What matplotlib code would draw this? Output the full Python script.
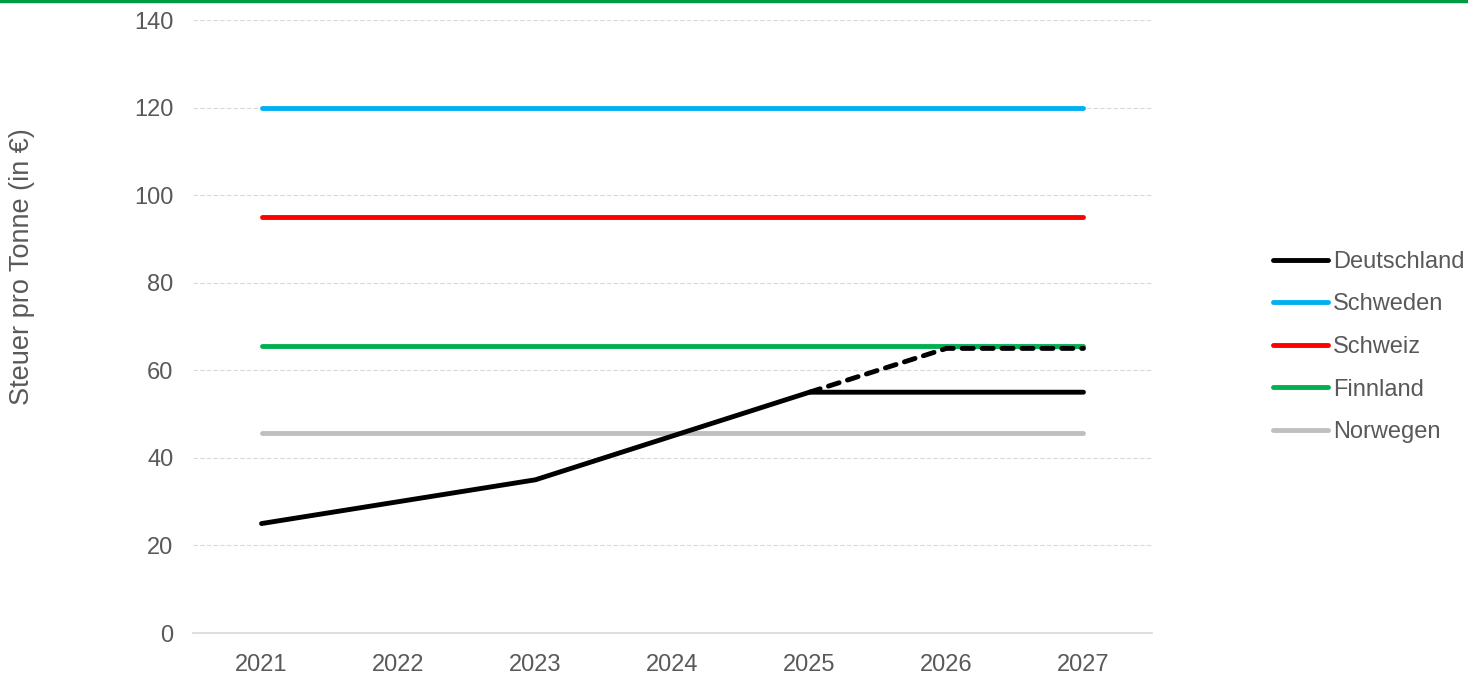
import numpy as np
import matplotlib
matplotlib.use("Agg")
import matplotlib.pyplot as plt
from matplotlib.lines import Line2D

plt.rcParams['font.family'] = ['Liberation Sans', 'DejaVu Sans']

years = ['2021', '2022', '2023', '2024', '2025', '2026', '2027']
deutschland = [25, 30, 35, 45, 55, 55, 55]
deutschland_plan = [None, None, None, None, 55, 65, 65]
schweden = [120] * 7
schweiz = [95] * 7
finnland = [65.5] * 7
norwegen = [45.7] * 7

grey = '#595959'

fig = plt.figure(figsize=(14.68, 6.74), dpi=100)
ax = fig.add_axes([0.1315, 0.0608, 0.6532, 0.9095])

x = np.arange(len(years))
kw = dict(lw=3.5, solid_capstyle='round', dash_capstyle='round')
ax.plot(x, norwegen, color='#BFBFBF', zorder=3, **kw)
ax.plot(x, finnland, color='#00B050', zorder=3, **kw)
ax.plot(x, schweiz, color='#FF0000', zorder=3, **kw)
ax.plot(x, schweden, color='#00B0F0', zorder=3, **kw)
ax.plot(x, deutschland, color='black', zorder=4, **kw)
plan = np.array([np.nan if v is None else v for v in deutschland_plan], dtype=float)
ax.plot(x, plan, color='black', ls=(0, (2.3, 1.8)), zorder=5, **kw)

ax.set_xlim(-0.5, len(years) - 0.5)
ax.set_ylim(0, 140)
ax.set_yticks(np.arange(0, 141, 20))
ax.set_xticks(x)
ax.set_xticklabels(years)
ax.tick_params(length=0, labelsize=17, colors=grey)
ax.tick_params(axis='x', pad=15)
ax.tick_params(axis='y', pad=14)
ax.grid(axis='y', color='#D9D9D9', ls=(0, (4, 2)), lw=0.8)
ax.set_axisbelow(True)
for s in ['top', 'right', 'left']:
    ax.spines[s].set_visible(False)
ax.spines['bottom'].set_color('#D9D9D9')
ax.spines['bottom'].set_linewidth(1.2)

fig.text(22 / 1468, 1 - 267 / 674, 'Steuer pro Tonne (in €)', rotation=90,
         ha='center', va='center', fontsize=19.5, color=grey)

# green rule at the very top
fig.add_artist(Line2D([0, 1], [0.998, 0.998], color='#009A44', lw=2.5,
                      transform=fig.transFigure))

handles = [Line2D([], [], color=c, lw=3.5, solid_capstyle='round')
           for c in ['black', '#00B0F0', '#FF0000', '#00B050', '#BFBFBF']]
labels = ['Deutschland', 'Schweden', 'Schweiz', 'Finnland', 'Norwegen']
leg = fig.legend(handles, labels, loc='center left',
                 bbox_to_anchor=(1273 / 1468, 1 - 347 / 674), frameon=False,
                 fontsize=17, handlelength=2.35, handletextpad=0.2,
                 labelspacing=0.87, borderpad=0, borderaxespad=0)
for t in leg.get_texts():
    t.set_color(grey)

fig.savefig('out.png', dpi=100)
